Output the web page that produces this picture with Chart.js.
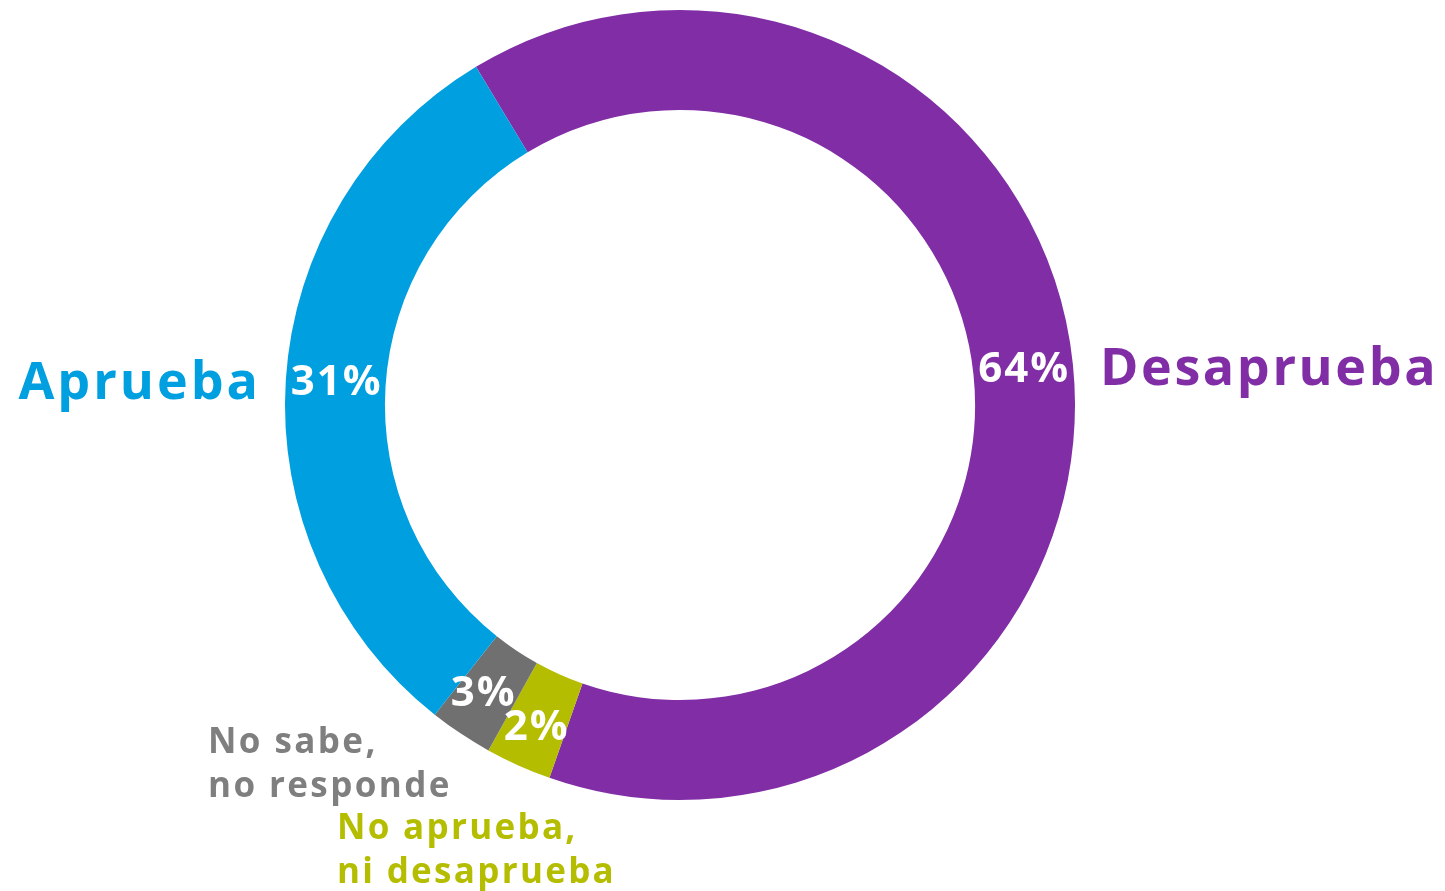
<!DOCTYPE html>
<html>
<head>
<meta charset="utf-8">
<script src="https://cdn.jsdelivr.net/npm/chart.js@4.4.0/dist/chart.umd.min.js"></script>
<style>
html,body{margin:0;padding:0;background:#fff;}
#wrap{width:1445px;height:891px;position:relative;}
</style>
</head>
<body>
<div id="wrap"><canvas id="c"></canvas></div>
<script>
const categories = ["Desaprueba", "No aprueba, ni desaprueba", "No sabe, no responde", "Aprueba"];
const values = [64.0, 2.7, 2.6, 30.7];
const valueLabels = ["64%", "2%", "3%", "31%"];
const colors = ["#812ea6", "#b4bd00", "#6f706f", "#009fe0"];
const textColors = ["#812ea6", "#b4bd00", "#7f7f7f", "#009fe0"];
const labelLines = [["Desaprueba"], ["No aprueba,", "ni desaprueba"], ["No sabe,", "no responde"], ["Aprueba"]];

const FONT = '"Open Sans", "DejaVu Sans", sans-serif';

function drawSpaced(ctx, text, x, y, align, spacing) {
  ctx.letterSpacing = spacing + 'px';
  const w = ctx.measureText(text).width - spacing;
  let sx = x;
  if (align === 'center') sx = x - w / 2;
  else if (align === 'right') sx = x - w;
  ctx.textAlign = 'left';
  ctx.fillText(text, sx, y);
  ctx.letterSpacing = '0px';
}

const labelOffsets = [[0, 0], [-3, 8], [-6, 2], [0, 0]];

const labelPlugin = {
  id: 'labels',
  afterDatasetsDraw(chart) {
    const ctx = chart.ctx;
    const meta = chart.getDatasetMeta(0);
    ctx.save();
    meta.data.forEach((arc, i) => {
      const p = arc.tooltipPosition();
      const {x: cx, y: cy, outerRadius: R} = arc.getProps(['x','y','outerRadius'], true);
      // percent label
      ctx.fillStyle = '#ffffff';
      ctx.font = '700 42px ' + FONT;
      ctx.textBaseline = 'middle';
      drawSpaced(ctx, valueLabels[i], p.x + labelOffsets[i][0], p.y + labelOffsets[i][1], 'center', 2);
      // category label
      ctx.fillStyle = textColors[i];
      ctx.textBaseline = 'alphabetic';
      if (i === 0) {
        ctx.font = '700 52px ' + FONT;
        drawSpaced(ctx, labelLines[i][0], cx + R + 25, p.y + 15, 'left', 2.6);
      } else if (i === 3) {
        ctx.font = '700 52px ' + FONT;
        drawSpaced(ctx, labelLines[i][0], cx - R - 27, p.y + 16, 'right', 3);
      } else if (i === 2) {
        ctx.font = '700 35px ' + FONT;
        labelLines[i].forEach((t, k) => drawSpaced(ctx, t, cx - 472, cy + 348 + k * 44, 'left', 2.4));
      } else if (i === 1) {
        ctx.font = '700 35px ' + FONT;
        labelLines[i].forEach((t, k) => drawSpaced(ctx, t, cx - 343, cy + 434 + k * 44, 'left', 2.3));
      }
    });
    ctx.restore();
  }
};

new Chart(document.getElementById('c'), {
  type: 'doughnut',
  data: {
    labels: categories,
    datasets: [{
      data: values,
      backgroundColor: colors,
      borderWidth: 0,
      hoverOffset: 0
    }]
  },
  options: {
    responsive: true,
    maintainAspectRatio: false,
    animation: false,
    rotation: -31.1,
    cutout: '74.7%',
    layout: { padding: { left: 285, right: 370, top: 10, bottom: 91 } },
    plugins: { legend: { display: false }, tooltip: { enabled: false } },
    events: []
  },
  plugins: [labelPlugin]
});
</script>
</body>
</html>
